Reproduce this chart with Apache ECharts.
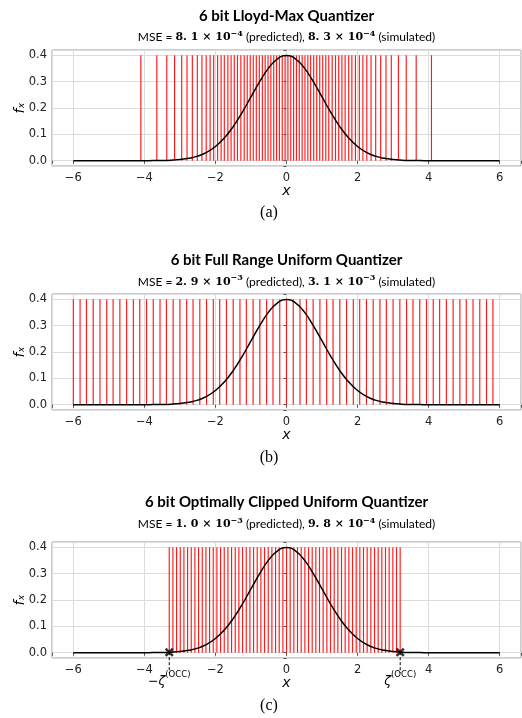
<!DOCTYPE html>
<html lang="en">
<head>
<meta charset="UTF-8">
<title>6 bit quantizers</title>
<script src="https://cdn.jsdelivr.net/npm/echarts@6/dist/echarts.min.js"></script>
<style>html,body{margin:0;padding:0;background:#fff;}</style>
</head>
<body>
<div id="chart-container" style="width:522px;height:718px;"></div>
<script type="text/javascript">
// standard normal pdf
var pdfX = [-6, -5.5, -5, -4.5, -4, -3.75, -3.5, -3.25, -3, -2.75, -2.5, -2.25, -2, -1.75, -1.5, -1.25, -1, -0.75, -0.5, -0.25,
            0, 0.25, 0.5, 0.75, 1, 1.25, 1.5, 1.75, 2, 2.25, 2.5, 2.75, 3, 3.25, 3.5, 3.75, 4, 4.5, 5, 5.5, 6];
var pdfY = [0, 0, 0, 0, 0.0001, 0.0004, 0.0009, 0.0020, 0.0044, 0.0091, 0.0175, 0.0317, 0.0540, 0.0863, 0.1295, 0.1826, 0.2420, 0.3011, 0.3521, 0.3867,
            0.3989, 0.3867, 0.3521, 0.3011, 0.2420, 0.1826, 0.1295, 0.0863, 0.0540, 0.0317, 0.0175, 0.0091, 0.0044, 0.0020, 0.0009, 0.0004, 0.0001, 0, 0, 0, 0];

// red quantizer lines (x positions), all drawn up to the same height
var levelHeight = 0.4;
var lloydLevels = [-4.10, -3.65, -3.37, -3.15, -2.95, -2.80, -2.65, -2.51, -2.38, -2.26, -2.15, -2.05, -1.94, -1.84, -1.75, -1.65,
                   -1.56, -1.47, -1.38, -1.285, -1.19, -1.105, -1.02, -0.935, -0.85, -0.765, -0.68, -0.60, -0.52, -0.44, -0.36, -0.28,
                   -0.20, -0.12, -0.04, 0.04, 0.12, 0.20, 0.28, 0.36, 0.44, 0.52, 0.60, 0.68, 0.765, 0.85, 0.935, 1.02,
                   1.105, 1.19, 1.285, 1.38, 1.47, 1.56, 1.65, 1.75, 1.84, 1.94, 2.05, 2.15, 2.26, 2.38, 2.51, 2.65,
                   2.80, 2.95, 3.15, 3.37, 3.65, 4.08];
var fullRangeLevels = [-6.00, -5.81, -5.63, -5.44, -5.25, -5.06, -4.88, -4.69, -4.50, -4.31, -4.13, -3.94, -3.75, -3.56, -3.38, -3.19,
                       -3.00, -2.81, -2.63, -2.44, -2.25, -2.06, -1.88, -1.69, -1.50, -1.31, -1.13, -0.94, -0.75, -0.56, -0.38, -0.19,
                       0.00, 0.19, 0.38, 0.56, 0.75, 0.94, 1.13, 1.31, 1.50, 1.69, 1.88, 2.06, 2.25, 2.44, 2.63, 2.81,
                       3.00, 3.19, 3.38, 3.56, 3.75, 3.94, 4.13, 4.31, 4.50, 4.69, 4.88, 5.06, 5.25, 5.44, 5.63, 5.81];
var clippedLevels = [-3.300, -3.197, -3.094, -2.990, -2.887, -2.784, -2.681, -2.578, -2.475, -2.371, -2.268, -2.165, -2.062, -1.959, -1.856, -1.752,
                     -1.649, -1.546, -1.443, -1.340, -1.237, -1.133, -1.030, -0.927, -0.824, -0.721, -0.618, -0.514, -0.411, -0.308, -0.205, -0.102,
                     0.001, 0.104, 0.207, 0.310, 0.413, 0.517, 0.620, 0.723, 0.826, 0.929, 1.032, 1.136, 1.239, 1.342, 1.445, 1.548,
                     1.651, 1.755, 1.858, 1.961, 2.064, 2.167, 2.270, 2.374, 2.477, 2.580, 2.683, 2.786, 2.889, 2.993, 3.096, 3.199];

// clipping points in panel (c)
var zetaX = [-3.30, 3.20];
var zetaY = [0.002, 0.002];
var zetaNames = ['\u2212\u03b6', '\u03b6'];

var panelTitles = ['6 bit Lloyd-Max Quantizer', '6 bit Full Range Uniform Quantizer', '6 bit Optimally Clipped Uniform Quantizer'];
var msePredicted = [['8. 1', '\u22124'], ['2. 9', '\u22123'], ['1. 0', '\u22123']];
var mseSimulated = [['8. 3', '\u22124'], ['3. 1', '\u22123'], ['9. 8', '\u22124']];
var captions = ['(a)', '(b)', '(c)'];

var xMin = -6.6, xMax = 6.6, yMin = -0.02, yMax = 0.42;

var chart = echarts.init(document.getElementById('chart-container'), null, {renderer: 'canvas'});

var gridTops = [50, 294, 542];
var gridLeft = 52, gridWidth = 469, gridHeight = 116;
var titleY = [16, 260, 502];
var subY = [37.5, 282, 524.5];
var captionY = [213, 458, 706];
var frameColor = '#9a9a9a';
var gridColor = '#dcdcdc';

function xFmt(v) {
    if (Math.abs(v - Math.round(v)) > 1e-6) return '';
    return v < 0 ? '\u2212' + (-v) : String(v);
}
function yFmt(v) {
    var r = Math.round(v * 10);
    if (Math.abs(v * 10 - r) > 1e-6) return '';
    return (r / 10).toFixed(1);
}

var grids = [], xAxes = [], yAxes = [], series = [], graphics = [];

var pdfData = pdfX.map(function (x, i) { return [x, pdfY[i]]; });
var levelSets = [lloydLevels, fullRangeLevels, clippedLevels];

for (var i = 0; i < 3; i++) {
    grids.push({
        left: gridLeft, top: gridTops[i], width: gridWidth, height: gridHeight,
        outerBoundsMode: 'none',
        show: true, borderColor: frameColor, borderWidth: 1, backgroundColor: 'transparent'
    });
    xAxes.push({
        type: 'value', gridIndex: i, min: xMin, max: xMax, splitNumber: 6,
        name: 'x', nameLocation: 'middle', nameGap: 18, nameMoveOverlap: false,
        nameTextStyle: {fontFamily: 'DejaVu Sans', fontStyle: 'italic', fontSize: 14, color: '#000'},
        axisLine: {show: false},
        axisTick: {show: true, length: 3, lineStyle: {color: '#555'}},
        axisLabel: {formatter: xFmt, fontFamily: 'DejaVu Sans', fontSize: 11.5, color: '#222', margin: 6},
        splitLine: {show: true, lineStyle: {color: gridColor, width: 1}}
    });
    yAxes.push({
        type: 'value', gridIndex: i, min: yMin, max: yMax, splitNumber: 5,
        name: 'f\u2093', nameLocation: 'middle', nameGap: 25, nameRotate: 90, nameMoveOverlap: false,
        nameTextStyle: {fontFamily: 'DejaVu Sans', fontStyle: 'italic', fontSize: 14, color: '#000'},
        axisLine: {show: false},
        axisTick: {show: true, length: 3, lineStyle: {color: '#555'}},
        axisLabel: {formatter: yFmt, fontFamily: 'DejaVu Sans', fontSize: 11.5, color: '#222', margin: 5},
        splitLine: {show: true, lineStyle: {color: gridColor, width: 1}}
    });
    series.push({
        type: 'custom', xAxisIndex: i, yAxisIndex: i, silent: true, z: 2,
        data: levelSets[i].map(function (x) { return [x, levelHeight]; }),
        encode: {x: 0, y: 1},
        renderItem: function (params, api) {
            var top = api.coord([api.value(0), api.value(1)]);
            var base = api.coord([api.value(0), 0]);
            return {
                type: 'line',
                shape: {x1: top[0], y1: top[1], x2: base[0], y2: base[1]},
                style: {stroke: '#ff1a1a', lineWidth: 1.15}
            };
        }
    });
    series.push({
        type: 'line', xAxisIndex: i, yAxisIndex: i, data: pdfData, smooth: true,
        showSymbol: false, silent: true, z: 3,
        lineStyle: {color: '#000', width: 1.5}
    });

    graphics.push({
        type: 'text', x: gridLeft + gridWidth / 2, y: titleY[i],
        style: {text: panelTitles[i], font: 'bold 15px Lato', fill: '#000',
                align: 'center', verticalAlign: 'middle', textAlign: 'center', textVerticalAlign: 'middle'}
    });
    graphics.push({
        type: 'text', x: gridLeft + gridWidth / 2, y: subY[i],
        style: {
            text: '{n|MSE = }{m|' + msePredicted[i][0] + ' \u00d7 10}{s|' + msePredicted[i][1] + '}{n| (predicted), }' +
                  '{m|' + mseSimulated[i][0] + ' \u00d7 10}{s|' + mseSimulated[i][1] + '}{n| (simulated)}',
            align: 'center', verticalAlign: 'middle', textAlign: 'center', textVerticalAlign: 'middle',
            rich: {
                n: {fontFamily: 'Lato', fontSize: 12, fill: '#000', color: '#000', lineHeight: 16},
                m: {fontFamily: 'DejaVu Serif', fontWeight: 'bold', fontSize: 11, fill: '#000', color: '#000', lineHeight: 16},
                s: {fontFamily: 'DejaVu Serif', fontWeight: 'bold', fontSize: 8, fill: '#000', color: '#000', lineHeight: 8, verticalAlign: 'top'}
            }
        }
    });
    graphics.push({
        type: 'text', x: 269, y: captionY[i],
        style: {text: captions[i], font: '16px "Liberation Serif"', fill: '#000',
                align: 'center', verticalAlign: 'middle', textAlign: 'center', textVerticalAlign: 'middle'}
    });
}

// panel (c): clipping markers, dashed drop lines and labels
series.push({
    type: 'scatter', xAxisIndex: 2, yAxisIndex: 2, z: 5, silent: true,
    data: zetaX.map(function (x, k) { return [x, zetaY[k]]; }),
    symbol: 'path://M2,0 L5,3 L8,0 L10,2 L7,5 L10,8 L8,10 L5,7 L2,10 L0,8 L3,5 L0,2 Z',
    symbolSize: 9,
    itemStyle: {color: '#000'}
});
series.push({
    type: 'custom', xAxisIndex: 2, yAxisIndex: 2, z: 4, silent: true, clip: false,
    data: zetaX.map(function (x, k) { return [x, zetaY[k], k]; }),
    encode: {x: 0, y: 1},
    renderItem: function (params, api) {
        var p = api.coord([api.value(0), api.value(1)]);
        var bottom = api.coord([api.value(0), yMin])[1];
        return {
            type: 'group',
            children: [{
                type: 'line',
                shape: {x1: p[0], y1: p[1], x2: p[0], y2: bottom + 15},
                style: {stroke: '#000', lineWidth: 1, lineDash: [3, 2]}
            }, {
                type: 'text',
                style: {
                    x: p[0], y: bottom + 12,
                    text: '{m|' + zetaNames[api.value(2)] + '}{s|(OCC)}',
                    align: 'center', verticalAlign: 'top',
                    rich: {
                        m: {fontFamily: 'DejaVu Sans', fontStyle: 'italic', fontSize: 12.5, fill: '#000', lineHeight: 18, verticalAlign: 'bottom'},
                        s: {fontFamily: 'DejaVu Sans', fontSize: 8.5, fill: '#000', lineHeight: 9, verticalAlign: 'top'}
                    }
                }
            }]
        };
    }
});

var option = {
    animation: false,
    backgroundColor: '#fff',
    grid: grids,
    xAxis: xAxes,
    yAxis: yAxes,
    series: series,
    graphic: graphics
};

chart.setOption(option);
</script>
</body>
</html>
